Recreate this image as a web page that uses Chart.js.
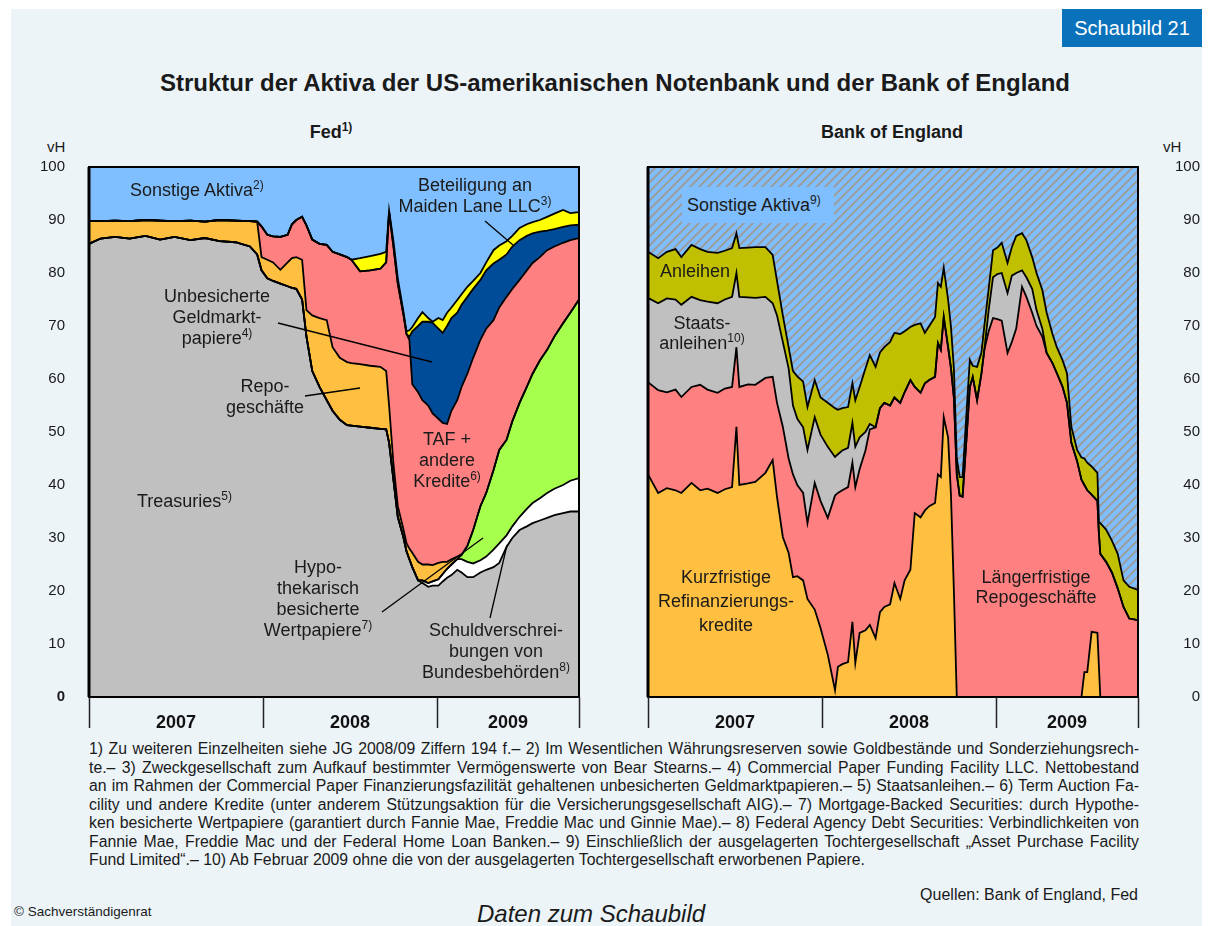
<!DOCTYPE html>
<html lang="de">
<head>
<meta charset="utf-8">
<title>Schaubild 21</title>
<script src="https://cdn.jsdelivr.net/npm/chart.js@4.4.1/dist/chart.umd.min.js"></script>
<style>
  html, body { margin: 0; padding: 0; background: #fff; }
  body { width: 1215px; height: 926px; position: relative; overflow: hidden;
         font-family: "Liberation Sans", Arial, Helvetica, sans-serif; color: #1a1a1a; }
  #panel { position: absolute; left: 11px; top: 9px; width: 1191px; height: 917px; background: #ecf4f8; }
  #badge { position: absolute; left: 1062px; top: 9px; width: 140px; height: 38px; background: #0a72ba;
           color: #fff; font-size: 20px; line-height: 38px; text-align: center; }
  .abs { position: absolute; white-space: nowrap; }
  .lbl { position: absolute; font-size: 18px; line-height: 21px; text-align: center; white-space: nowrap;
         transform: translateX(-50%); }
  sup { font-size: 12px; line-height: 0; vertical-align: 7px; }
  canvas { position: absolute; }
  #notes { position: absolute; left: 89px; top: 740px; width: 1050px; font-size: 15.8px; line-height: 18.5px; }
  #notes div { text-align: justify; text-align-last: justify; }
  #notes div.last { text-align: left; text-align-last: left; }
</style>
</head>
<body>
<div id="panel"></div>
<div id="badge">Schaubild 21</div>

<div class="abs" style="left:0;width:1230px;top:69px;text-align:center;font-size:24px;font-weight:bold;line-height:28px;">Struktur der Aktiva der US-amerikanischen Notenbank und der Bank of England</div>
<div class="lbl" style="left:331px;top:122px;font-weight:bold;">Fed<sup>1)</sup></div>
<div class="lbl" style="left:892px;top:122px;font-weight:bold;">Bank of England</div>
<div class="abs" style="left:47px;top:138px;font-size:15px;">vH</div>
<div class="abs" style="left:1163px;top:138px;font-size:15px;">vH</div>

<canvas id="fedChart" width="580" height="600" style="left:20px;top:140px;"></canvas>
<canvas id="boeChart" width="580" height="600" style="left:620px;top:140px;"></canvas>

<!-- Beschriftungen Fed -->
<div class="abs" style="left:130px;top:180px;font-size:18px;line-height:21px;">Sonstige Aktiva<sup>2)</sup></div>
<div class="lbl" style="left:475px;top:175px;">Beteiligung an<br>Maiden Lane LLC<sup>3)</sup></div>
<div class="lbl" style="left:217px;top:286px;">Unbesicherte<br>Geldmarkt-<br>papiere<sup>4)</sup></div>
<div class="lbl" style="left:265px;top:376px;">Repo-<br>geschäfte</div>
<div class="abs" style="left:137px;top:491px;font-size:18px;line-height:21px;">Treasuries<sup>5)</sup></div>
<div class="lbl" style="left:447px;top:429px;">TAF +<br>andere<br>Kredite<sup>6)</sup></div>
<div class="lbl" style="left:318px;top:557px;">Hypo-<br>thekarisch<br>besicherte<br>Wertpapiere<sup>7)</sup></div>
<div class="lbl" style="left:496px;top:620px;">Schuldverschrei-<br>bungen von<br>Bundesbehörden<sup>8)</sup></div>

<!-- Beschriftungen Bank of England -->
<div class="abs" style="left:682px;top:187px;width:147px;height:36px;padding-left:5px;background:#80bfff;font-size:18px;line-height:36px;">Sonstige Aktiva<sup>9)</sup></div>
<div class="abs" style="left:660px;top:261px;font-size:18px;line-height:21px;">Anleihen</div>
<div class="lbl" style="left:702px;top:313px;line-height:20px;">Staats-<br>anleihen<sup>10)</sup></div>
<div class="lbl" style="left:726px;top:565px;line-height:24px;">Kurzfristige<br>Refinanzierungs-<br>kredite</div>
<div class="lbl" style="left:1036px;top:567px;line-height:20px;">Längerfristige<br>Repogeschäfte</div>

<div id="notes">
  <div>1) Zu weiteren Einzelheiten siehe JG 2008/09 Ziffern 194 f.– 2) Im Wesentlichen Währungsreserven sowie Goldbestände und Sonderziehungsrech-</div>
  <div>te.– 3) Zweckgesellschaft zum Aufkauf bestimmter Vermögenswerte von Bear Stearns.– 4) Commercial Paper Funding Facility LLC. Nettobestand</div>
  <div>an im Rahmen der Commercial Paper Finanzierungsfazilität gehaltenen unbesicherten Geldmarktpapieren.– 5) Staatsanleihen.– 6) Term Auction Fa-</div>
  <div>cility und andere Kredite (unter anderem Stützungsaktion für die Versicherungsgesellschaft AIG).– 7) Mortgage-Backed Securities: durch Hypothe-</div>
  <div>ken besicherte Wertpapiere (garantiert durch Fannie Mae, Freddie Mac und Ginnie Mae).– 8) Federal Agency Debt Securities: Verbindlichkeiten von</div>
  <div>Fannie Mae, Freddie Mac und der Federal Home Loan Banken.– 9) Einschließlich der ausgelagerten Tochtergesellschaft „Asset Purchase Facility</div>
  <div class="last">Fund Limited“.– 10) Ab Februar 2009 ohne die von der ausgelagerten Tochtergesellschaft erworbenen Papiere.</div>
</div>
<div class="abs" style="right:77px;top:886px;font-size:16px;">Quellen: Bank of England, Fed</div>
<div class="abs" style="left:14px;top:904px;font-size:13.5px;">© Sachverständigenrat</div>
<div class="abs" style="left:477px;top:900px;font-size:24px;font-style:italic;">Daten zum Schaubild</div>

<script>
// Zeitachse in Monaten ab Januar 2007
const yearBounds = [0, 12, 24, 33.8];
const yearLabels = ['2007', '2008', '2009'];

// Fed: Obergrenzen der gestapelten Anteile (vH)
const fedMonths = [0.0, 0.8, 1.8, 2.8, 3.9, 4.9, 5.9, 7.0, 8.0, 9.0,
    10.1, 11.1, 11.6, 11.9, 12.3, 12.7, 13.2, 13.7, 14.0, 14.3,
    14.7, 15.0, 15.4, 15.9, 16.4, 16.8, 17.3, 17.8, 18.1, 18.7,
    19.4, 20.1, 20.5, 20.7, 21.0, 21.3, 21.7, 21.9, 22.1, 22.3,
    22.7, 23.0, 23.4, 23.7, 24.1, 24.4, 24.7, 25.0, 25.4, 25.7,
    26.1, 26.5, 27.0, 27.4, 27.9, 28.3, 28.8, 29.2, 29.7, 30.2,
    30.6, 31.1, 31.6, 32.1, 32.7, 33.2, 33.8];

const fedTreasuries = [85.5, 86.5, 86.8, 86.5, 87.0, 86.3, 86.8, 86.2, 86.6, 86.0,
    85.8, 85.0, 83.5, 80.5, 79.0, 78.5, 78.0, 77.5, 77.2, 77.0,
    75.0, 68.0, 61.5, 58.5, 56.0, 54.0, 52.3, 51.3, 51.2, 51.0,
    50.8, 50.6, 50.5, 48.0, 41.0, 34.0, 30.0, 27.5, 26.0, 24.5,
    22.0, 21.5, 20.8, 21.0, 21.0, 21.8, 22.5, 23.0, 24.0, 23.5,
    22.6, 22.6, 23.5, 24.0, 24.5, 25.3, 28.3, 30.0, 31.5, 32.2,
    32.8, 33.3, 33.8, 34.3, 34.7, 35.0, 35.0];

const fedAgency = [85.5, 86.5, 86.8, 86.5, 87.0, 86.3, 86.8, 86.2, 86.6, 86.0,
    85.8, 85.0, 83.5, 80.5, 79.0, 78.5, 78.0, 77.5, 77.2, 77.0,
    75.0, 68.0, 61.5, 58.5, 56.0, 54.0, 52.3, 51.3, 51.2, 51.0,
    50.8, 50.6, 50.5, 48.0, 41.0, 34.0, 30.0, 27.5, 26.0, 24.5,
    22.0, 22.0, 21.5, 21.8, 22.2, 23.2, 24.2, 25.0, 26.0, 26.0,
    25.5, 25.2, 25.8, 26.5, 27.8, 29.0, 30.5, 32.2, 34.0, 35.5,
    36.6, 37.5, 38.5, 39.3, 40.0, 40.8, 41.3];

const fedMbs = [85.5, 86.5, 86.8, 86.5, 87.0, 86.3, 86.8, 86.2, 86.6, 86.0,
    85.8, 85.0, 83.5, 80.5, 79.0, 78.5, 78.0, 77.5, 77.2, 77.0,
    75.0, 68.0, 61.5, 58.5, 56.0, 54.0, 52.3, 51.3, 51.2, 51.0,
    50.8, 50.6, 50.5, 48.0, 41.0, 34.0, 30.0, 27.5, 26.0, 24.5,
    22.0, 22.0, 21.5, 21.8, 22.2, 23.2, 24.2, 25.0, 26.0, 26.8,
    28.5, 31.5, 36.0, 38.5, 42.8, 46.6, 48.5, 52.0, 55.5, 58.5,
    61.0, 63.5, 65.5, 68.0, 70.5, 72.5, 75.0];

const fedRepo = [89.8, 89.8, 89.9, 89.8, 90.0, 89.9, 89.8, 89.9, 89.7, 90.0,
    89.9, 89.8, 89.7, 83.0, 82.5, 82.0, 80.6, 82.0, 82.8, 83.0,
    82.5, 73.0, 72.0, 71.5, 71.1, 66.0, 64.0, 63.2, 63.0, 62.8,
    62.5, 62.3, 61.5, 55.0, 44.0, 36.0, 31.5, 29.0, 28.0, 27.2,
    25.5, 25.0, 25.0, 24.9, 25.3, 25.5, 25.5, 26.0, 26.5, 26.8,
    28.5, 31.5, 36.0, 38.5, 42.8, 46.6, 48.5, 52.0, 55.5, 58.5,
    61.0, 63.5, 65.5, 68.0, 70.5, 72.5, 75.0];

const fedTaf = [89.8, 89.8, 89.9, 89.8, 90.0, 89.9, 89.8, 89.9, 89.7, 90.0,
    89.9, 89.8, 89.7, 88.8, 87.2, 86.9, 86.8, 87.2, 89.2, 90.0,
    90.6, 89.0, 86.3, 85.5, 85.3, 84.0, 83.5, 83.0, 82.5, 80.3,
    80.5, 80.8, 82.0, 91.5, 85.0, 78.0, 72.0, 68.5, 67.4, 59.0,
    57.5, 56.0, 55.0, 53.5, 52.5, 51.7, 51.5, 54.0, 56.0, 58.5,
    61.0, 64.0, 67.4, 69.5, 71.1, 73.5, 75.5, 77.0, 78.7, 80.5,
    81.9, 83.0, 84.3, 85.0, 85.7, 86.2, 86.6];

const fedCpff = [89.8, 89.8, 89.9, 89.8, 90.0, 89.9, 89.8, 89.9, 89.7, 90.0,
    89.9, 89.8, 89.7, 88.8, 87.2, 86.9, 86.8, 87.2, 89.2, 90.0,
    90.6, 89.0, 86.3, 85.5, 85.3, 84.0, 83.5, 83.0, 82.5, 80.3,
    80.5, 80.8, 82.0, 91.5, 85.0, 78.0, 72.0, 68.5, 68.0, 69.0,
    70.0, 70.8, 70.8, 70.6, 69.5, 68.7, 70.0, 71.5, 72.5, 74.0,
    75.5, 77.0, 78.7, 80.5, 81.8, 82.5, 83.5, 85.0, 86.2, 87.0,
    87.5, 87.8, 88.0, 88.3, 88.7, 89.0, 89.1];

const fedMaidenLane = [89.8, 89.8, 89.9, 89.8, 90.0, 89.9, 89.8, 89.9, 89.7, 90.0,
    89.9, 89.8, 89.7, 88.8, 87.2, 86.9, 86.8, 87.2, 89.2, 90.0,
    90.6, 89.0, 86.3, 85.5, 85.3, 84.0, 83.5, 83.0, 82.5, 82.8,
    83.2, 83.6, 84.0, 91.8, 86.0, 79.0, 72.5, 69.0, 69.2, 69.8,
    71.5, 72.6, 71.5, 70.8, 71.5, 71.1, 72.5, 73.5, 74.9, 76.0,
    77.4, 78.5, 80.0, 82.0, 84.3, 85.2, 86.0, 87.0, 88.5, 89.2,
    89.6, 90.0, 90.6, 91.2, 91.9, 91.3, 91.5];

// Bank of England: Obergrenzen der gestapelten Anteile (vH)
const boeMonths = [0.0, 0.7, 1.3, 1.9, 2.3, 3.0, 3.6, 4.1, 4.8, 5.3,
    5.8, 6.1, 6.3, 6.9, 7.4, 8.1, 8.6, 8.9, 9.3, 9.7,
    10.0, 10.3, 10.7, 11.0, 11.5, 11.9, 12.4, 12.9, 13.1, 13.4,
    13.8, 14.1, 14.3, 14.6, 15.0, 15.3, 15.7, 16.0, 16.3, 16.7,
    17.0, 17.4, 17.7, 18.1, 18.4, 18.8, 19.1, 19.4, 19.8, 20.0,
    20.2, 20.4, 20.7, 20.9, 21.1, 21.3, 21.5, 21.7, 22.0, 22.2,
    22.4, 22.7, 23.0, 23.2, 23.5, 23.8, 24.1, 24.4, 24.8, 25.1,
    25.4, 25.8, 26.1, 26.5, 26.8, 27.2, 27.5, 27.9, 28.2, 28.6,
    28.9, 29.2, 29.6, 29.9, 30.1, 30.3, 30.6, 31.0, 31.1, 31.2,
    31.6, 32.0, 32.4, 32.8, 33.2, 33.8];

const boeShortTerm = [42.0, 38.5, 39.4, 39.0, 38.5, 40.4, 39.0, 39.3, 38.5, 39.2,
    39.6, 51.0, 40.0, 40.3, 40.6, 42.3, 44.7, 37.7, 30.2, 27.2,
    22.6, 22.8, 22.0, 18.5, 16.5, 13.0, 8.0, 1.3, 5.7, 6.2,
    6.6, 14.2, 6.4, 12.1, 12.6, 13.6, 11.1, 16.0, 17.0, 17.5,
    21.5, 18.5, 22.0, 24.0, 34.7, 33.9, 35.2, 36.0, 36.6, 42.0,
    41.5, 52.8, 49.0, 38.0, 20.0, 0, 0, 0, 0, 0,
    0, 0, 0, 0, 0, 0, 0, 0, 0, 0,
    0, 0, 0, 0, 0, 0, 0, 0, 0, 0,
    0, 0, 0, 0, 4.7, 4.7, 12.3, 12.1, 6.0, 0,
    0, 0, 0, 0, 0, 0];

const boeLongTerm = [59.4, 57.9, 57.5, 58.0, 56.6, 58.5, 58.9, 58.0, 57.4, 58.2,
    58.5, 66.0, 58.5, 59.0, 58.9, 60.2, 60.4, 55.5, 51.0, 45.0,
    42.0, 40.0, 38.5, 32.8, 40.4, 37.0, 33.8, 38.0, 38.5, 39.0,
    39.6, 44.2, 39.6, 43.0, 46.5, 50.5, 50.9, 54.5, 55.5, 55.0,
    56.5, 55.5, 57.5, 59.8, 58.5, 57.4, 59.2, 59.8, 60.4, 66.8,
    65.5, 71.7, 66.0, 62.0, 56.5, 42.0, 38.0, 37.8, 50.0, 58.5,
    60.4, 56.0, 61.0, 65.5, 69.0, 71.5, 71.3, 71.0, 64.9, 67.0,
    69.5, 77.4, 75.5, 72.5, 70.0, 68.0, 64.9, 63.0, 61.1, 58.5,
    55.5, 48.0, 44.5, 41.0, 40.0, 39.0, 38.2, 37.0, 31.0, 27.0,
    25.5, 23.5, 20.5, 17.0, 14.8, 14.5];

const boeGilts = [75.3, 74.3, 75.2, 75.0, 74.0, 75.5, 74.9, 74.6, 74.3, 75.0,
    75.5, 80.0, 75.5, 75.4, 75.3, 75.5, 74.3, 72.0, 67.0, 62.0,
    55.0, 52.5, 50.9, 46.6, 52.8, 49.5, 47.2, 45.3, 45.8, 46.5,
    47.0, 51.7, 47.2, 49.0, 50.0, 51.5, 50.9, 54.5, 55.5, 55.0,
    56.5, 55.5, 57.5, 59.8, 58.5, 57.4, 59.2, 59.8, 60.4, 66.8,
    65.5, 71.7, 66.0, 62.0, 56.5, 42.0, 38.0, 37.8, 50.0, 58.5,
    60.4, 56.0, 61.0, 65.5, 73.0, 79.2, 79.8, 80.0, 76.2, 79.5,
    80.0, 80.5, 79.2, 77.0, 73.0, 69.5, 64.9, 63.0, 61.1, 58.5,
    55.5, 48.0, 44.5, 41.0, 40.0, 39.0, 38.2, 37.0, 31.0, 27.0,
    25.5, 23.5, 20.5, 17.0, 14.8, 14.5];

const boeBonds = [84.0, 82.8, 84.0, 84.5, 83.0, 85.3, 84.5, 84.0, 83.8, 84.2,
    84.7, 87.5, 84.7, 84.8, 84.9, 84.9, 83.4, 78.5, 72.0, 66.0,
    61.5, 60.5, 59.5, 54.7, 59.8, 56.5, 55.5, 54.5, 54.2, 54.5,
    54.7, 59.2, 56.0, 58.5, 62.0, 64.5, 62.3, 65.0, 66.0, 67.0,
    68.7, 68.5, 69.0, 69.8, 70.2, 70.5, 68.7, 70.0, 71.7, 78.1,
    77.4, 81.0, 75.0, 69.8, 62.0, 45.0, 41.5, 41.5, 55.0, 63.6,
    62.5, 62.3, 65.0, 70.0, 77.0, 84.3, 84.8, 85.7, 81.9, 84.9,
    87.0, 87.5, 86.2, 83.0, 80.0, 76.8, 72.5, 68.5, 66.0, 63.5,
    61.1, 51.0, 46.6, 45.2, 45.0, 44.2, 43.5, 42.3, 33.0, 32.8,
    31.6, 29.5, 27.0, 22.0, 20.8, 20.2];

const FONT = '"Liberation Sans", Arial, Helvetica, sans-serif';
Chart.defaults.font.family = FONT;
Chart.defaults.color = '#1a1a1a';

// Schraffur fuer "Sonstige Aktiva" der Bank of England
function makeHatch() {
    const s = 9;
    const c = document.createElement('canvas');
    c.width = s; c.height = s;
    const g = c.getContext('2d');
    g.fillStyle = '#80bfff';
    g.fillRect(0, 0, s, s);
    g.strokeStyle = '#9c9c9c';
    g.lineWidth = 2;
    g.beginPath();
    g.moveTo(-1, s + 1); g.lineTo(s + 1, -1);
    g.moveTo(-3, 3); g.lineTo(3, -3);
    g.moveTo(s - 3, s + 3); g.lineTo(s + 3, s - 3);
    g.stroke();
    return g.createPattern(c, 'repeat');
}

// Hintergrund, Rahmen, Jahresachse und Hinweislinien
const framePlugin = {
    id: 'frame',
    beforeDraw(chart, args, opts) {
        const a = chart.chartArea, ctx = chart.ctx;
        ctx.save();
        ctx.fillStyle = opts.fill === 'hatch' ? makeHatch() : opts.fill;
        ctx.fillRect(a.left, a.top, a.right - a.left, a.bottom - a.top);
        ctx.restore();
    },
    afterDraw(chart, args, opts) {
        const a = chart.chartArea, ctx = chart.ctx, x = chart.scales.x;
        ctx.save();
        ctx.strokeStyle = '#000';
        ctx.lineWidth = 2;
        ctx.strokeRect(a.left, a.top, a.right - a.left, a.bottom - a.top);
        ctx.lineWidth = 3;
        ctx.beginPath();
        ctx.moveTo(a.left, a.top); ctx.lineTo(a.left, a.bottom);
        ctx.stroke();

        ctx.lineWidth = 1.5;
        ctx.strokeStyle = '#222';
        yearBounds.forEach(v => {
            const px = Math.round(x.getPixelForValue(v)) + 0.5;
            ctx.beginPath();
            ctx.moveTo(px, a.bottom);
            ctx.lineTo(px, a.bottom + 31);
            ctx.stroke();
        });
        ctx.fillStyle = '#111';
        ctx.font = 'bold 18px ' + FONT;
        ctx.textAlign = 'center';
        ctx.textBaseline = 'middle';
        yearLabels.forEach((lab, i) => {
            const mid = (x.getPixelForValue(yearBounds[i]) + x.getPixelForValue(yearBounds[i + 1])) / 2;
            ctx.fillText(lab, mid, a.bottom + 26);
        });

        ctx.strokeStyle = '#000';
        ctx.lineWidth = 1.3;
        (opts.leaders || []).forEach(l => {
            ctx.beginPath();
            ctx.moveTo(l[0] - opts.dx, l[1] - opts.dy);
            ctx.lineTo(l[2] - opts.dx, l[3] - opts.dy);
            ctx.stroke();
        });
        ctx.restore();
    }
};

function areaSets(months, series) {
    return series.map((s, i) => ({
        label: s.label,
        data: months.map((m, j) => ({ x: m, y: s.data[j] })),
        backgroundColor: s.color,
        borderColor: '#000',
        borderWidth: 1.8,
        pointRadius: 0,
        tension: 0,
        fill: i === 0 ? 'origin' : '-1'
    }));
}

function makeChart(id, months, series, side, plugOpts, pad) {
    return new Chart(document.getElementById(id), {
        type: 'line',
        data: { datasets: areaSets(months, series) },
        options: {
            responsive: false,
            animation: false,
            layout: { padding: pad },
            plugins: {
                legend: { display: false },
                tooltip: { enabled: false },
                filler: { drawTime: 'beforeDatasetsDraw' },
                frame: plugOpts
            },
            scales: {
                x: {
                    type: 'linear', min: 0, max: yearBounds[3],
                    ticks: { display: false },
                    grid: { display: false },
                    border: { display: false },
                    afterFit: s => { s.height = 43; }
                },
                y: {
                    position: side, min: 0, max: 100,
                    ticks: {
                        stepSize: 10,
                        padding: side === 'left' ? 16 : 17,
                        crossAlign: side === 'left' ? 'near' : 'far',
                        color: '#1a1a1a',
                        font: c => ({ size: 15, weight: (side === 'left' && c.tick && c.tick.value === 0) ? 'bold' : 'normal' })
                    },
                    grid: { display: false },
                    border: { display: false },
                    afterFit: s => { s.width = side === 'left' ? 69 : 62; }
                }
            }
        },
        plugins: [framePlugin]
    });
}

makeChart('fedChart', fedMonths, [
    { label: 'Treasuries', data: fedTreasuries, color: '#c0c0c0' },
    { label: 'Schuldverschreibungen von Bundesbehörden', data: fedAgency, color: '#ffffff' },
    { label: 'Hypothekarisch besicherte Wertpapiere', data: fedMbs, color: '#a6ff4d' },
    { label: 'Repogeschäfte', data: fedRepo, color: '#ffbf40' },
    { label: 'TAF + andere Kredite', data: fedTaf, color: '#ff8080' },
    { label: 'Unbesicherte Geldmarktpapiere', data: fedCpff, color: '#004c99' },
    { label: 'Beteiligung an Maiden Lane LLC', data: fedMaidenLane, color: '#ffff00' }
], 'left', {
    fill: '#80bfff', dx: 20, dy: 140,
    leaders: [[485, 221, 513, 245], [278, 323, 432, 362], [305, 396, 360, 388],
              [382, 612, 483, 538], [490, 618, 507, 545]]
}, { top: 27, right: 21, left: 0, bottom: 0 });

makeChart('boeChart', boeMonths, [
    { label: 'Kurzfristige Refinanzierungskredite', data: boeShortTerm, color: '#ffbf40' },
    { label: 'Längerfristige Repogeschäfte', data: boeLongTerm, color: '#ff8080' },
    { label: 'Staatsanleihen', data: boeGilts, color: '#c0c0c0' },
    { label: 'Anleihen', data: boeBonds, color: '#c0c000' }
], 'right', { fill: 'hatch', dx: 620, dy: 140, leaders: [] },
   { top: 27, right: 0, left: 28, bottom: 0 });
</script>
</body>
</html>
